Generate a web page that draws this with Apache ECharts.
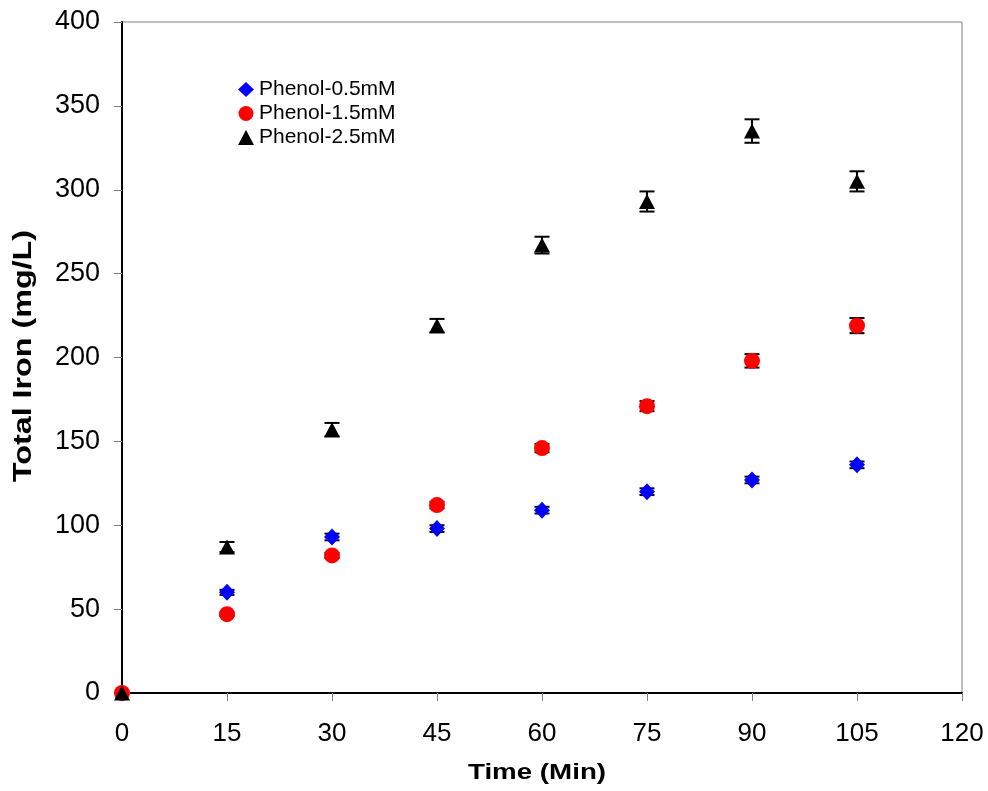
<!DOCTYPE html>
<html>
<head>
<meta charset="utf-8">
<script src="https://cdn.jsdelivr.net/npm/echarts@6/dist/echarts.min.js"></script>
<style>
  html, body { margin: 0; padding: 0; background: #fff; }
  #chart { width: 988px; height: 791px; }
</style>
</head>
<body>
<div id="chart"></div>
<script>
// Sampling times (min)
const times = [0, 15, 30, 45, 60, 75, 90, 105];

// Total iron (mg/L) for each phenol dose
const phenol05 = [0, 60, 93, 98, 109, 120, 127, 136];
const phenol15 = [0, 47, 82, 112, 146, 171, 198, 219];
const phenol25 = [0, 87, 157, 219, 267, 293, 335, 305];

// Standard deviations (mg/L)
const err05 = [0, 1.5, 2, 2, 2, 2, 2, 2];
const err15 = [0, 1, 1.5, 2, 2.5, 3, 4, 4.5];
const err25 = [0, 3, 4, 4, 5, 6, 7, 6];

const seriesNames = ['Phenol-0.5mM', 'Phenol-1.5mM', 'Phenol-2.5mM'];
const xTitle = 'Time (Min)';
const yTitle = 'Total Iron (mg/L)';

const FONT = '"Liberation Sans", Arial, sans-serif';

function pairs(ys) {
  return times.map((t, i) => [t, ys[i]]);
}

function errorData(ys, es) {
  return times.map((t, i) => [t, ys[i] - es[i], ys[i] + es[i]]);
}

// Capped vertical error bar drawn from the axis scales
function renderErrorBar(params, api) {
  const x = api.value(0);
  const lo = api.coord([x, api.value(1)]);
  const hi = api.coord([x, api.value(2)]);
  const half = 7.5;
  const style = { stroke: '#000', lineWidth: 2 };
  return {
    type: 'group',
    children: [
      { type: 'line', shape: { x1: lo[0], y1: lo[1], x2: hi[0], y2: hi[1] }, style },
      { type: 'line', shape: { x1: hi[0] - half, y1: hi[1], x2: hi[0] + half, y2: hi[1] }, style },
      { type: 'line', shape: { x1: lo[0] - half, y1: lo[1], x2: lo[0] + half, y2: lo[1] }, style }
    ]
  };
}

function errorSeries(ys, es) {
  return {
    type: 'custom',
    renderItem: renderErrorBar,
    data: errorData(ys, es),
    encode: { x: 0, y: [1, 2] },
    z: 1,
    silent: true
  };
}

const chart = echarts.init(document.getElementById('chart'));

chart.setOption({
  animation: false,
  backgroundColor: '#fff',
  grid: { left: 122, right: 26, top: 22, bottom: 98, show: true, borderColor: '#808080', borderWidth: 1 },
  legend: {
    data: seriesNames,
    orient: 'vertical',
    left: 233,
    top: 74,
    itemGap: 3,
    itemWidth: 16,
    itemHeight: 15,
    textStyle: { fontFamily: FONT, fontSize: 21, color: '#000' }
  },
  // Axis titles, widened along the text direction
  graphic: [
    {
      type: 'text',
      x: 537,
      y: 773,
      scaleX: 1.26,
      style: {
        text: xTitle,
        font: 'bold 22px ' + FONT,
        fill: '#000',
        align: 'center',
        verticalAlign: 'middle'
      }
    },
    {
      type: 'text',
      x: 24,
      y: 356,
      rotation: Math.PI / 2,
      scaleX: 1.29,
      style: {
        text: yTitle,
        font: 'bold 25px ' + FONT,
        fill: '#000',
        align: 'center',
        verticalAlign: 'middle'
      }
    }
  ],
  xAxis: {
    type: 'value',
    min: 0,
    max: 120,
    interval: 15,
    axisLine: { show: true, onZero: false, lineStyle: { color: '#000', width: 2 } },
    axisTick: { show: true, inside: false, length: 8, lineStyle: { color: '#808080', width: 1 } },
    axisLabel: { fontFamily: FONT, fontSize: 26, color: '#000', margin: 28 },
    splitLine: { show: false }
  },
  yAxis: {
    type: 'value',
    min: 0,
    max: 400,
    interval: 50,
    axisLine: { show: true, lineStyle: { color: '#000', width: 2 } },
    axisTick: { show: true, inside: false, length: 8, lineStyle: { color: '#808080', width: 1 } },
    axisLabel: { fontFamily: FONT, fontSize: 27, color: '#000', margin: 22 },
    splitLine: { show: false }
  },
  series: [
    errorSeries(phenol05, err05),
    errorSeries(phenol15, err15),
    errorSeries(phenol25, err25),
    {
      name: seriesNames[0],
      type: 'scatter',
      symbol: 'diamond',
      symbolSize: [16, 17],
      itemStyle: { color: '#0000ff', opacity: 1 },
      data: pairs(phenol05),
      z: 3
    },
    {
      name: seriesNames[1],
      type: 'scatter',
      symbol: 'circle',
      symbolSize: 16,
      itemStyle: { color: '#ff0000', opacity: 1 },
      data: pairs(phenol15),
      z: 4
    },
    {
      name: seriesNames[2],
      type: 'scatter',
      symbol: 'triangle',
      symbolSize: [16, 15],
      itemStyle: { color: '#000000', opacity: 1 },
      data: pairs(phenol25),
      z: 5
    }
  ]
});
</script>
</body>
</html>
